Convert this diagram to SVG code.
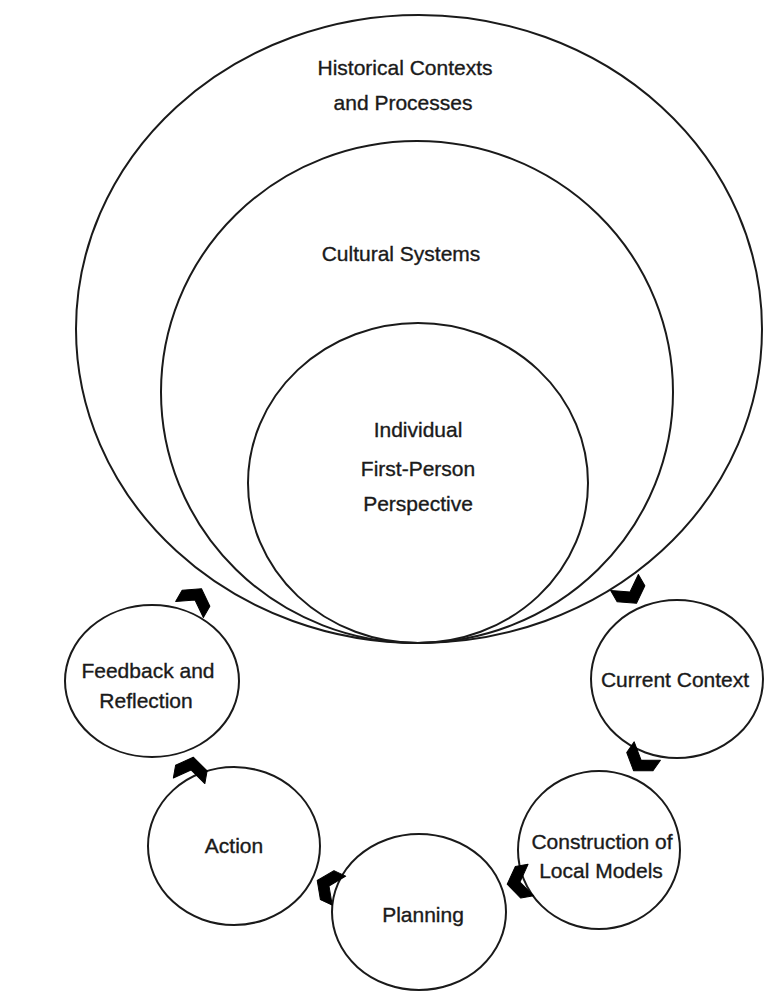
<svg xmlns="http://www.w3.org/2000/svg" width="770" height="1001" viewBox="0 0 770 1001">
  <style>
    .ring { fill: none; stroke: #1a1a1a; stroke-width: 2; }
    .step { fill: #ffffff; stroke: #1a1a1a; stroke-width: 2; }
    .lbl { font-family: "Liberation Sans", Arial, sans-serif; font-size: 21px; fill: #1a1a1a; stroke: #1a1a1a; stroke-width: 0.35; text-anchor: middle; }
    .chev { fill: #000000; stroke: #000000; stroke-width: 1; stroke-linejoin: round; }
  </style>
  <defs>
    <!-- chevron pointing along +x -->
    <polygon id="chevron" points="-11,-16 2,-16 13,0 2,16 -11,16 0,0"/>
  </defs>
  <rect width="770" height="1001" fill="#ffffff"/>

  <g id="historical-contexts">
    <ellipse class="ring" cx="419" cy="329" rx="343" ry="314"/>
    <text class="lbl" x="405" y="75">Historical Contexts</text>
    <text class="lbl" x="403" y="110">and Processes</text>
  </g>

  <g id="cultural-systems">
    <ellipse class="ring" cx="417" cy="392" rx="256" ry="251"/>
    <text class="lbl" x="401" y="261">Cultural Systems</text>
  </g>

  <g id="individual">
    <ellipse class="ring" cx="418" cy="483" rx="170" ry="160"/>
    <text class="lbl" x="418" y="437">Individual</text>
    <text class="lbl" x="418" y="476">First-Person</text>
    <text class="lbl" x="418" y="511">Perspective</text>
  </g>

  <g id="feedback-reflection">
    <ellipse class="step" cx="152" cy="681" rx="87" ry="76"/>
    <text class="lbl" x="148" y="678">Feedback and</text>
    <text class="lbl" x="146" y="708">Reflection</text>
  </g>

  <g id="current-context">
    <ellipse class="step" cx="677" cy="679" rx="86" ry="79"/>
    <text class="lbl" x="675" y="687">Current Context</text>
  </g>

  <g id="construction-local-models">
    <ellipse class="step" cx="599" cy="850" rx="81" ry="79"/>
    <text class="lbl" x="602" y="849">Construction of</text>
    <text class="lbl" x="601" y="878">Local Models</text>
  </g>

  <g id="planning">
    <ellipse class="step" cx="419" cy="912" rx="87" ry="78"/>
    <text class="lbl" x="423" y="922">Planning</text>
  </g>

  <g id="action">
    <ellipse class="step" cx="234" cy="846" rx="86" ry="79"/>
    <text class="lbl" x="234" y="853">Action</text>
  </g>

  <g id="connectors">
    <use href="#chevron" class="chev" transform="translate(195,600) rotate(-60)"/>
    <use href="#chevron" class="chev" transform="translate(630,592) rotate(60)"/>
    <use href="#chevron" class="chev" transform="translate(641,760) rotate(125)"/>
    <use href="#chevron" class="chev" transform="translate(520,882) rotate(170)"/>
    <use href="#chevron" class="chev" transform="translate(329,886) rotate(205)"/>
    <use href="#chevron" class="chev" transform="translate(191,770) rotate(-80)"/>
  </g>
</svg>
